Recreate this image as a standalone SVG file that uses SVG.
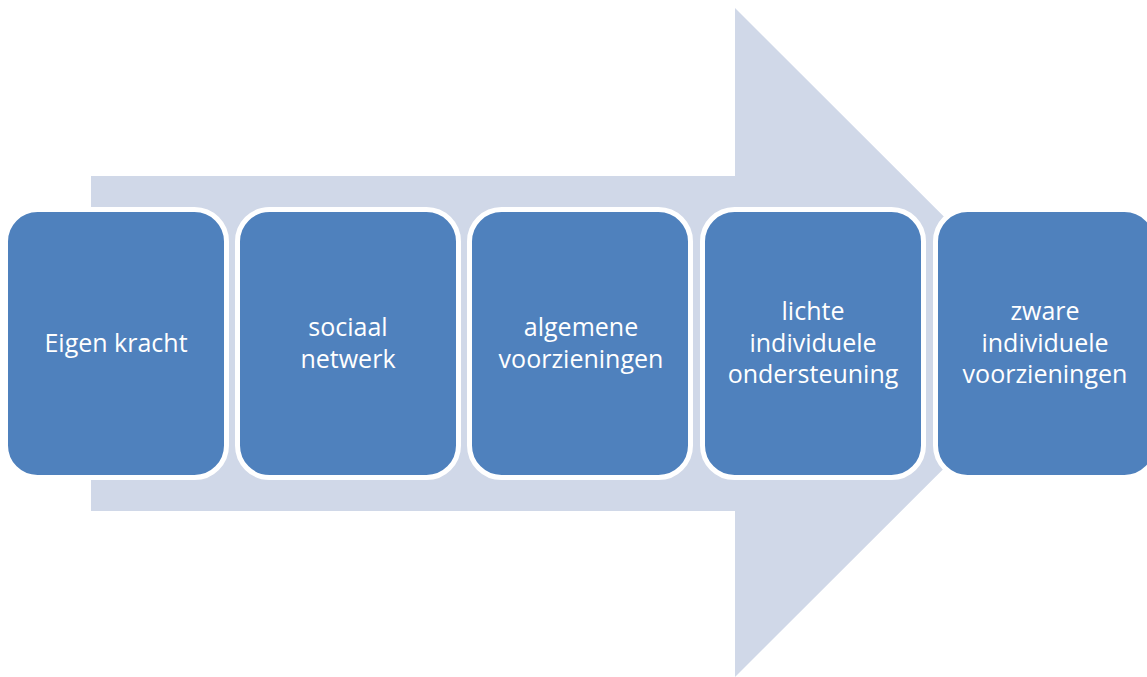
<svg xmlns="http://www.w3.org/2000/svg" width="1147" height="677" viewBox="0 0 1147 677">
<style>
.box{fill:#4F81BD;stroke:#FFFFFF;stroke-width:5}
.lbl{fill:#FFFFFF;font-family:"Open Sans","Noto Sans","Liberation Sans",sans-serif;font-size:25px;text-anchor:middle}
</style>
<rect width="1147" height="677" fill="#FFFFFF"/>
<g id="connectors">
<polygon id="arrow" points="91,176 735,176 735,8 1070,342.5 735,677 735,511 91,511" fill="#D0D8E8"/>
</g>
<g id="node1">
<rect class="box" x="5.5" y="209.5" width="221" height="268" rx="32"/>
<text class="lbl" x="116" y="352">Eigen kracht</text>
</g>
<g id="node2">
<rect class="box" x="237.5" y="209.5" width="221" height="268" rx="32"/>
<text class="lbl" x="348" y="336">sociaal</text>
<text class="lbl" x="348" y="367.5">netwerk</text>
</g>
<g id="node3">
<rect class="box" x="469.5" y="209.5" width="221" height="268" rx="32"/>
<text class="lbl" x="581" y="336">algemene</text>
<text class="lbl" x="581" y="367.5">voorzieningen</text>
</g>
<g id="node4">
<rect class="box" x="702.5" y="209.5" width="221" height="268" rx="32"/>
<text class="lbl" x="813" y="320">lichte</text>
<text class="lbl" x="813" y="351.7">individuele</text>
<text class="lbl" x="813" y="383.3">ondersteuning</text>
</g>
<g id="node5">
<rect class="box" x="935.5" y="209.5" width="221" height="268" rx="32"/>
<text class="lbl" x="1045" y="320">zware</text>
<text class="lbl" x="1045" y="351.7">individuele</text>
<text class="lbl" x="1045" y="383.3">voorzieningen</text>
</g>
</svg>
